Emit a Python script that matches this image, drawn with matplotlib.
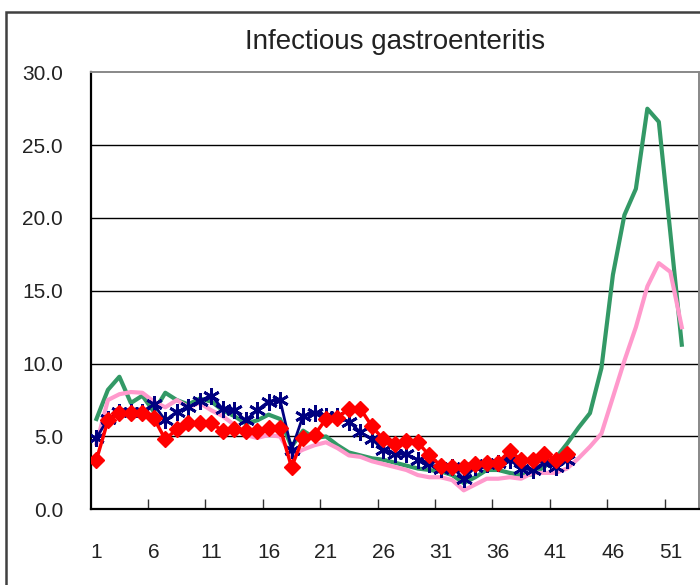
import matplotlib
matplotlib.use("Agg")
import matplotlib.pyplot as plt
from matplotlib.patches import Rectangle
from matplotlib.ticker import FixedLocator

plt.rcParams["font.family"] = ["Liberation Sans", "DejaVu Sans"]

GREEN = "#339966"
PINK = "#FF99CC"
NAVY = "#000080"
RED = "#FF0000"

# weekly values (per sentinel)
weeks_full = list(range(1, 53))
green_vals = [6.2, 8.2, 9.1, 7.3, 7.8, 6.7, 8.0, 7.5, 7.2, 7.6,
              7.4, 6.8, 6.4, 5.9, 6.1, 6.5, 6.2, 4.3, 5.4, 4.9,
              5.0, 4.4, 3.9, 3.7, 3.5, 3.4, 3.2, 3.0, 2.8, 2.7,
              2.6, 2.35, 1.8, 2.2, 2.7, 2.7, 2.5, 2.35, 2.4, 2.9,
              3.5, 4.5, 5.6, 6.6, 9.7, 16.1, 20.2, 22.0, 27.5, 26.6,
              19.0, 11.3]
pink_vals = [4.5, 7.5, 7.9, 8.05, 8.0, 7.4, 7.0, 7.5, 7.0, 7.3,
             6.8, 6.4, 5.8, 5.1, 4.9, 5.1, 5.0, 3.7, 4.1, 4.4,
             4.6, 4.2, 3.7, 3.6, 3.3, 3.1, 2.9, 2.7, 2.35, 2.2,
             2.2, 2.0, 1.3, 1.7, 2.1, 2.1, 2.2, 2.1, 2.5, 2.5,
             2.5, 2.8, 3.5, 4.3, 5.2, 7.7, 10.2, 12.5, 15.3, 16.9,
             16.3, 12.5]

weeks_part = list(range(1, 43))
navy_vals = [4.9, 6.2, 6.7, 6.7, 6.7, 7.2, 6.1, 6.7, 7.0, 7.45,
             7.8, 6.9, 6.8, 6.1, 6.8, 7.4, 7.5, 4.1, 6.4, 6.6,
             6.4, 6.4, 6.0, 5.3, 4.8, 4.1, 3.8, 3.8, 3.4, 3.1,
             2.8, 2.9, 2.1, 2.9, 3.1, 3.2, 3.4, 2.8, 2.7, 3.2,
             2.9, 3.4]
red_vals = [3.4, 6.1, 6.6, 6.6, 6.6, 6.25, 4.8, 5.5, 5.9, 5.9,
            5.9, 5.4, 5.5, 5.4, 5.4, 5.6, 5.6, 2.9, 4.9, 5.1,
            6.2, 6.3, 6.9, 6.9, 5.7, 4.8, 4.5, 4.7, 4.6, 3.7,
            3.0, 2.9, 2.9, 3.1, 3.2, 3.2, 4.0, 3.4, 3.4, 3.8,
            3.4, 3.8]

label_weeks = [1, 6, 11, 16, 21, 26, 31, 36, 41, 46, 51]
y_ticks = [0, 5, 10, 15, 20, 25, 30]

fig = plt.figure(figsize=(7.0, 5.85), dpi=100)
fig.patch.set_facecolor("white")

# outer chart frame
fig.add_artist(Rectangle((6 / 700, -0.1), 1.2, 1.1 - 12 / 585,
                         transform=fig.transFigure, fill=False,
                         edgecolor="#404040", linewidth=1.8))

ax = fig.add_axes([90.7 / 700, (585 - 509.3) / 585,
                   (699 - 90.7) / 700, (509.3 - 72.3) / 585])

ax.plot(weeks_full, green_vals, color=GREEN, lw=3.0, zorder=3)
ax.plot(weeks_full, pink_vals, color=PINK, lw=3.0, zorder=3)
ax.plot(weeks_part, navy_vals, color=NAVY, lw=2.0, marker=(6, 2, 0),
        markersize=12, markeredgewidth=2.0, zorder=4)
ax.plot(weeks_part, red_vals, color=RED, lw=2.5, marker="D",
        markersize=8, markeredgecolor=RED, zorder=5)

ax.set_xlim(0.5, 53.5)
ax.set_ylim(0, 30)

for v in y_ticks[1:-1]:
    ax.axhline(v, color="black", lw=1.0, zorder=1)

ax.set_yticks(y_ticks)
ax.set_yticklabels([f"{v:.1f}" for v in y_ticks])
ax.tick_params(axis="y", length=0, pad=20, labelsize=15,
               labelcolor="#222222")

# ticks between categories, labels on categories
ax.xaxis.set_major_locator(FixedLocator([w + 0.5 for w in range(5, 51, 5)]))
ax.xaxis.set_minor_locator(FixedLocator(label_weeks))
ax.xaxis.set_major_formatter(plt.NullFormatter())
ax.set_xticklabels([str(w) for w in label_weeks], minor=True)
ax.tick_params(axis="x", which="major", direction="in", length=7,
               width=1.0, color="#333333")
ax.tick_params(axis="x", which="minor", length=0, pad=24, labelsize=15,
               labelcolor="#222222")

for side in ("left", "bottom"):
    ax.spines[side].set_color("black")
    ax.spines[side].set_linewidth(1.6)
for side in ("top", "right"):
    ax.spines[side].set_color("#888888")
    ax.spines[side].set_linewidth(1.4)

fig.text(395 / 700, 1 - 42 / 585, "Infectious gastroenteritis",
         ha="center", va="center", fontsize=20, color="#222222")

fig.savefig("out.png", dpi=100, facecolor="white")
